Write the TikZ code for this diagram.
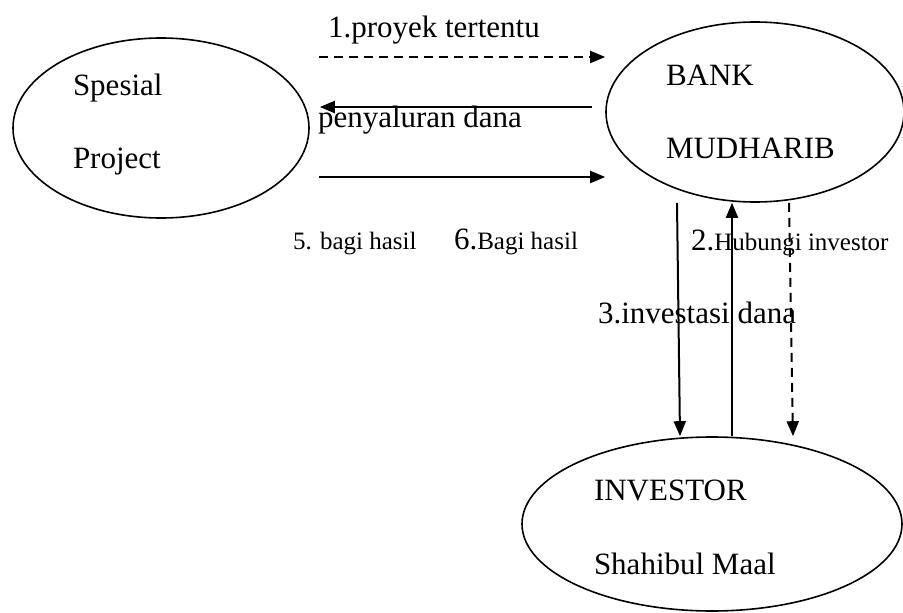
\documentclass[tikz,border=0pt]{standalone}
\usepackage{fontspec}
\setmainfont{Liberation Serif}
\usetikzlibrary{arrows.meta,shapes.geometric}
\newcommand{\bigsz}{\fontsize{31}{37}\selectfont}

\begin{document}
\begin{tikzpicture}[x=1pt,y=-1pt,>={Triangle[length=15pt,width=12pt]},line width=2pt,
  oval/.style={draw,ellipse,inner sep=0pt,line width=1.6pt},
  txt/.style={anchor=base west,inner sep=0pt,font=\bigsz},
  sml/.style={anchor=base west,inner sep=0pt,font=\fontsize{25}{30}\selectfont},
  dsh/.style={dash pattern=on 9pt off 6pt}]
\useasboundingbox (0,0) rectangle (903,613);
% the three parties
\node[oval,minimum width=296pt,minimum height=180pt] (sp) at (161,128) {};
\node[oval,minimum width=298pt,minimum height=180pt] (bank) at (755,112) {};
\node[oval,minimum width=380pt,minimum height=174pt] (inv) at (712,524) {};
\node[txt] (sp1) at (72,95) {Spesial};
\node[txt] (sp2) at (72,168) {Project};
\node[txt] (bank1) at (665,85) {BANK};
\node[txt] (bank2) at (665,158) {MUDHARIB};
\node[txt] (inv1) at (593,500) {INVESTOR};
\node[txt] (inv2) at (593,574) {Shahibul Maal};
% flows between project and bank
\draw[->,dsh] ([xshift=9pt]sp.east |- 0,57) -- (bank.west |- 0,57);
\draw[->] ([xshift=-13pt]bank.west |- 0,107) -- ([xshift=10pt]sp.east |- 0,107);
\draw[->] ([xshift=9pt]sp.east |- 0,177) -- (bank.west |- 0,177);
\node[txt] (l1) at (327,37) {1.proyek tertentu};
\node[txt] (l4) at (317,127) {penyaluran dana};
\node[sml] (l5) at (292,249) {5. bagi hasil};
\node[sml] (l6) at (453,249) {{\bigsz 6.}Bagi hasil};
% flows between bank and investor
\draw[->] (bank.south -| 677,0) -- (inv.north -| 680,0);
\draw[->] (inv.north -| 732,0) -- (bank.south -| 732,0);
\draw[->,dsh] (bank.south -| 789,0) -- (inv.north -| 793,0);
\node[sml] (l2) at (690,250) {{\bigsz 2.}Hubungi investor};
\node[txt] (l3) at (597,323) {3.investasi dana};
\end{tikzpicture}
\end{document}
